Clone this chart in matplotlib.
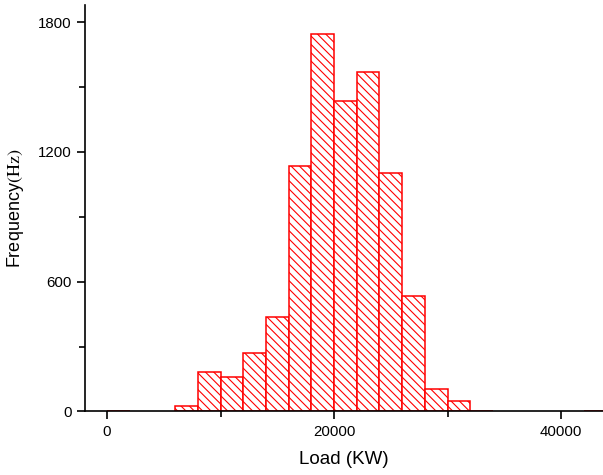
import matplotlib
matplotlib.use("Agg")
import matplotlib.pyplot as plt
import numpy as np
from matplotlib.ticker import MultipleLocator

plt.rcParams['font.family'] = ['Liberation Sans', 'DejaVu Sans']
plt.rcParams['mathtext.fontset'] = 'stix'
plt.rcParams['hatch.linewidth'] = 0.8

# histogram data: bin left edges (KW) and counts
bin_left = [0, 2000, 4000, 6000, 8000, 10000, 12000, 14000, 16000, 18000,
            20000, 22000, 24000, 26000, 28000, 30000, 32000, 34000, 36000,
            38000, 40000, 42000]
counts = [1, 0, 0, 27, 184, 161, 271, 436, 1133, 1744,
          1437, 1571, 1105, 534, 103, 47, 1, 0, 0,
          0, 0, 1]
bin_width = 2000

fig = plt.figure(figsize=(6.03, 4.75), dpi=100)
ax = fig.add_axes([0.141, 0.1337, 0.859, 0.856])

left_nz = [l for l, c in zip(bin_left, counts) if c > 0]
counts_nz = [c for c in counts if c > 0]
ax.bar(left_nz, counts_nz, width=bin_width, align='edge', facecolor='white',
       edgecolor='#ff0000', linewidth=1.1, hatch='\\\\\\\\')

ax.set_xlim(-1940, 43700)
ax.set_ylim(0, 1880)

ax.xaxis.set_major_locator(MultipleLocator(20000))
ax.xaxis.set_minor_locator(MultipleLocator(10000))
ax.yaxis.set_major_locator(MultipleLocator(600))
ax.yaxis.set_minor_locator(MultipleLocator(300))

for s in ['top', 'right']:
    ax.spines[s].set_visible(False)
for s in ['left', 'bottom']:
    ax.spines[s].set_linewidth(1.2)
    ax.spines[s].set_zorder(3)

ax.tick_params(which='major', direction='out', length=6, width=1.2, labelsize=10.8)
ax.tick_params(which='minor', direction='out', length=4, width=1.2)

ax.set_xlabel('Load (KW)', fontsize=13.5, labelpad=9)
ax.set_ylabel(r'Frequency$\mathrm{(Hz)}$', fontsize=13, labelpad=9)

fig.savefig('out.png', dpi=100)
